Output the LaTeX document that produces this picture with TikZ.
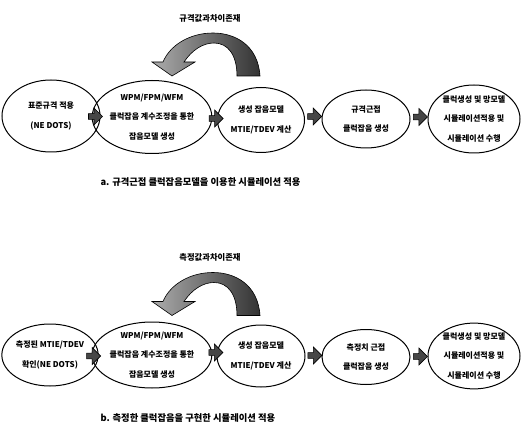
\documentclass[tikz,border=0pt]{standalone}
\usepackage{fontspec}
\setmainfont{Noto Sans CJK KR}
\usetikzlibrary{shapes.geometric,shapes.arrows,calc}
\begin{document}
\begin{tikzpicture}[x=1pt,y=-1pt,
  stage/.style={ellipse,draw=black,line width=1pt,inner sep=0pt,align=center,
    font=\fontsize{8}{19.5}\selectfont\bfseries},
  blockarrow/.style={single arrow,draw=black,line width=0.6pt,fill=gray!55!black,
    minimum width=17pt,minimum height=14pt,single arrow head extend=0.6pt,
    single arrow head indent=0pt,inner sep=0pt},
  bentarrow/.style={draw=black,line width=0.6pt,left color=gray!65,right color=gray!40!black},
  note/.style={font=\fontsize{8.3}{9}\selectfont\bfseries},
  captiontext/.style={font=\fontsize{9.3}{10}\selectfont\bfseries,anchor=west}]
\useasboundingbox (0,0) rectangle (527,430);
% ---------- row a ----------
\node[stage,minimum width=98pt,minimum height=72pt] (a1) at (51,116) {표준규격 적용\\(NE DOTS)};
\node[stage,minimum width=89pt,minimum height=73pt] (a2) at (152,117) {WPM/FPM/WFM\\클럭잡음 계수조정을 통한\\잡음모델 생성};
\node[stage,minimum width=87pt,minimum height=65pt] (a3) at (261,120) {생성 잡음모델\\MTIE/TDEV 계산};
\node[stage,minimum width=88pt,minimum height=58pt] (a4) at (366,119) {규격근접\\클럭잡음 생성};
\node[stage,minimum width=92pt,minimum height=68pt] (a5) at (474,119) {클럭생성 및 망모델\\시뮬레이션적용 및\\시뮬레이션 수행};
\node[blockarrow] (ar1) at ($(a1.east)!0.5!(a2.west)+(-2,0)$) {};
\node[blockarrow] (ar2) at ($(a2.east)!0.5!(a3.west)$) {};
\node[blockarrow] (ar3) at ($(a3.east)!0.5!(a4.west)+(0,-3)$) {};
\node[blockarrow] (ar4) at ($(a4.east)!0.5!(a5.west)+(0,-2)$) {};
\path[bentarrow] (260,76) .. controls (258,45) and (235,33) .. (213,33)
  .. controls (190,33) and (170,45) .. (163,62) -- (152,62) -- (172,76) -- (195,62) -- (184,62)
  .. controls (192,50) and (203,43) .. (214,43) .. controls (228,43) and (237,55) .. (237,76) -- cycle;
\node[note] (la) at (210,18) {규격값과차이존재};
\node[captiontext] (ca) at (97,182) {a. 규격근접 클럭잡음모델을 이용한 시뮬레이션 적용};
% ---------- row b ----------
\node[stage,minimum width=94pt,minimum height=62pt] (b1) at (50,355) {측정된 MTIE/TDEV\\확인(NE DOTS)};
\node[stage,minimum width=89pt,minimum height=66pt] (b2) at (152,355) {WPM/FPM/WFM\\클럭잡음 계수조정을 통한\\잡음모델 생성};
\node[stage,minimum width=88pt,minimum height=62pt] (b3) at (261,356) {생성 잡음모델\\MTIE/TDEV 계산};
\node[stage,minimum width=88pt,minimum height=55pt] (b4) at (366,357) {측정치 근접\\클럭잡음 생성};
\node[stage,minimum width=92pt,minimum height=63pt] (b5) at (474,356) {클럭생성 및 망모델\\시뮬레이션적용 및\\시뮬레이션 수행};
\node[blockarrow] (br1) at ($(b1.east)!0.5!(b2.west)+(-3,1)$) {};
\node[blockarrow] (br2) at ($(b2.east)!0.5!(b3.west)+(0,-3)$) {};
\node[blockarrow] (br3) at ($(b3.east)!0.5!(b4.west)+(0,-1)$) {};
\node[blockarrow] (br4) at ($(b4.east)!0.5!(b5.west)+(0,0)$) {};
\begin{scope}[yshift=-239.5pt]
\path[bentarrow] (260,76) .. controls (258,45) and (235,33) .. (213,33)
  .. controls (190,33) and (170,45) .. (163,62) -- (152,62) -- (172,76) -- (195,62) -- (184,62)
  .. controls (192,50) and (203,43) .. (214,43) .. controls (228,43) and (237,55) .. (237,76) -- cycle;
\end{scope}
\node[note] (lb) at (210,257) {측정값과차이존재};
\node[captiontext] (cb) at (97,418) {b. 측정한 클럭잡음을 구현한 시뮬레이션 적용};
\end{tikzpicture}
\end{document}
